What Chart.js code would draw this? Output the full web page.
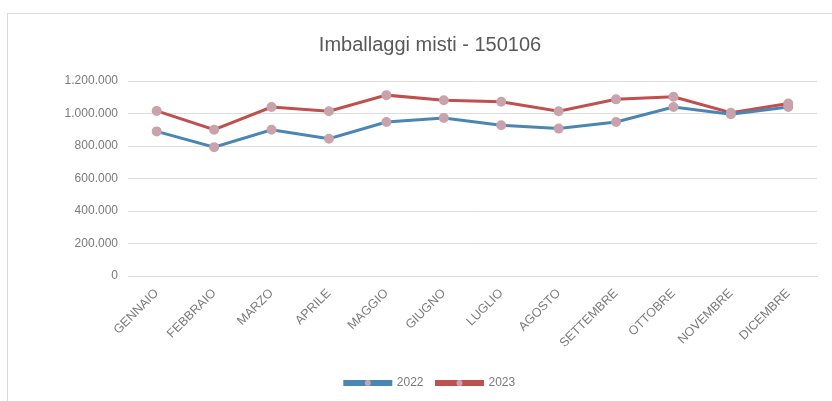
<!DOCTYPE html>
<html>
<head>
<meta charset="utf-8">
<script src="https://cdn.jsdelivr.net/npm/chart.js@4/dist/chart.umd.min.js"></script>
<style>
  html, body { margin: 0; padding: 0; background: #fff; }
  #frame {
    position: absolute; left: 7px; top: 13px; width: 840px; height: 400px;
    border: 1px solid #d9d9d9; box-sizing: border-box;
  }
  #wrap { position: absolute; left: 0; top: 0; width: 832px; height: 401px; }
</style>
</head>
<body>
<div id="frame"></div>
<div id="wrap"><canvas id="chart"></canvas></div>
<script>
// Chart data
const months = ['GENNAIO', 'FEBBRAIO', 'MARZO', 'APRILE', 'MAGGIO', 'GIUGNO',
  'LUGLIO', 'AGOSTO', 'SETTEMBRE', 'OTTOBRE', 'NOVEMBRE', 'DICEMBRE'];
const values2022 = [890000, 793000, 900000, 845000, 948000, 973000,
  928000, 907000, 948000, 1040000, 995000, 1040000];
const values2023 = [1016000, 900000, 1040000, 1014000, 1113000, 1082000,
  1072000, 1014000, 1087000, 1103000, 1005000, 1062000];
const yMax = 1200000;
const yStep = 200000;

const TEXT = '#7a7a7a';
const FONT = "'Liberation Sans', Arial, sans-serif";
const MARKER = '#c9a3ab';

function formatIt(v) {
  return String(v).replace(/\B(?=(\d{3})+(?!\d))/g, '.');
}

// draws a small marker in the middle of each legend line
const legendMarkers = {
  id: 'legendMarkers',
  afterDraw(chart) {
    const legend = chart.legend;
    if (!legend || !legend.legendHitBoxes) return;
    const ctx = chart.ctx;
    const boxW = legend.options.labels.boxWidth;
    legend.legendHitBoxes.forEach(box => {
      const cx = box.left + boxW / 2;
      const cy = box.top + box.height / 2;
      ctx.save();
      ctx.beginPath();
      ctx.arc(cx, cy, 3, 0, Math.PI * 2);
      ctx.fillStyle = MARKER;
      ctx.fill();
      ctx.restore();
    });
  }
};

new Chart(document.getElementById('chart'), {
  type: 'line',
  data: {
    labels: months,
    datasets: [
      {
        label: '2022',
        data: values2022,
        borderColor: '#4a86b4',
        backgroundColor: '#4a86b4',
        borderWidth: 3,
        pointRadius: 3.5,
        pointBackgroundColor: MARKER,
        pointBorderColor: MARKER,
        tension: 0
      },
      {
        label: '2023',
        data: values2023,
        borderColor: '#c0504d',
        backgroundColor: '#c0504d',
        borderWidth: 3,
        pointRadius: 3.5,
        pointBackgroundColor: MARKER,
        pointBorderColor: MARKER,
        tension: 0
      }
    ]
  },
  options: {
    responsive: true,
    maintainAspectRatio: false,
    animation: false,
    layout: { padding: { left: 43, right: 15, top: 33, bottom: 2 } },
    plugins: {
      title: {
        display: true,
        text: 'Imballaggi misti - 150106',
        color: '#595959',
        font: { family: FONT, size: 20, weight: 'normal' },
        padding: { top: 0, bottom: 24 }
      },
      legend: {
        position: 'bottom',
        labels: {
          color: TEXT,
          font: { family: FONT, size: 12 },
          boxWidth: 46,
          boxHeight: 3,
          padding: 13
        }
      },
      tooltip: { enabled: false }
    },
    scales: {
      x: {
        offset: true,
        afterFit(scale) { scale.height = 88; },
        grid: { display: false },
        border: { color: '#d9d9d9' },
        ticks: {
          color: TEXT,
          font: { family: FONT, size: 12.5 },
          minRotation: 45,
          maxRotation: 45,
          padding: 2
        }
      },
      y: {
        min: 0,
        max: yMax,
        afterFit(scale) { scale.width = 85; },
        grid: { color: '#dedede', tickLength: 6, tickColor: '#ffffff' },
        border: { display: false },
        ticks: {
          stepSize: yStep,
          color: TEXT,
          font: { family: FONT, size: 12 },
          padding: 4,
          callback: v => formatIt(v)
        }
      }
    }
  },
  plugins: [legendMarkers]
});
</script>
</body>
</html>
